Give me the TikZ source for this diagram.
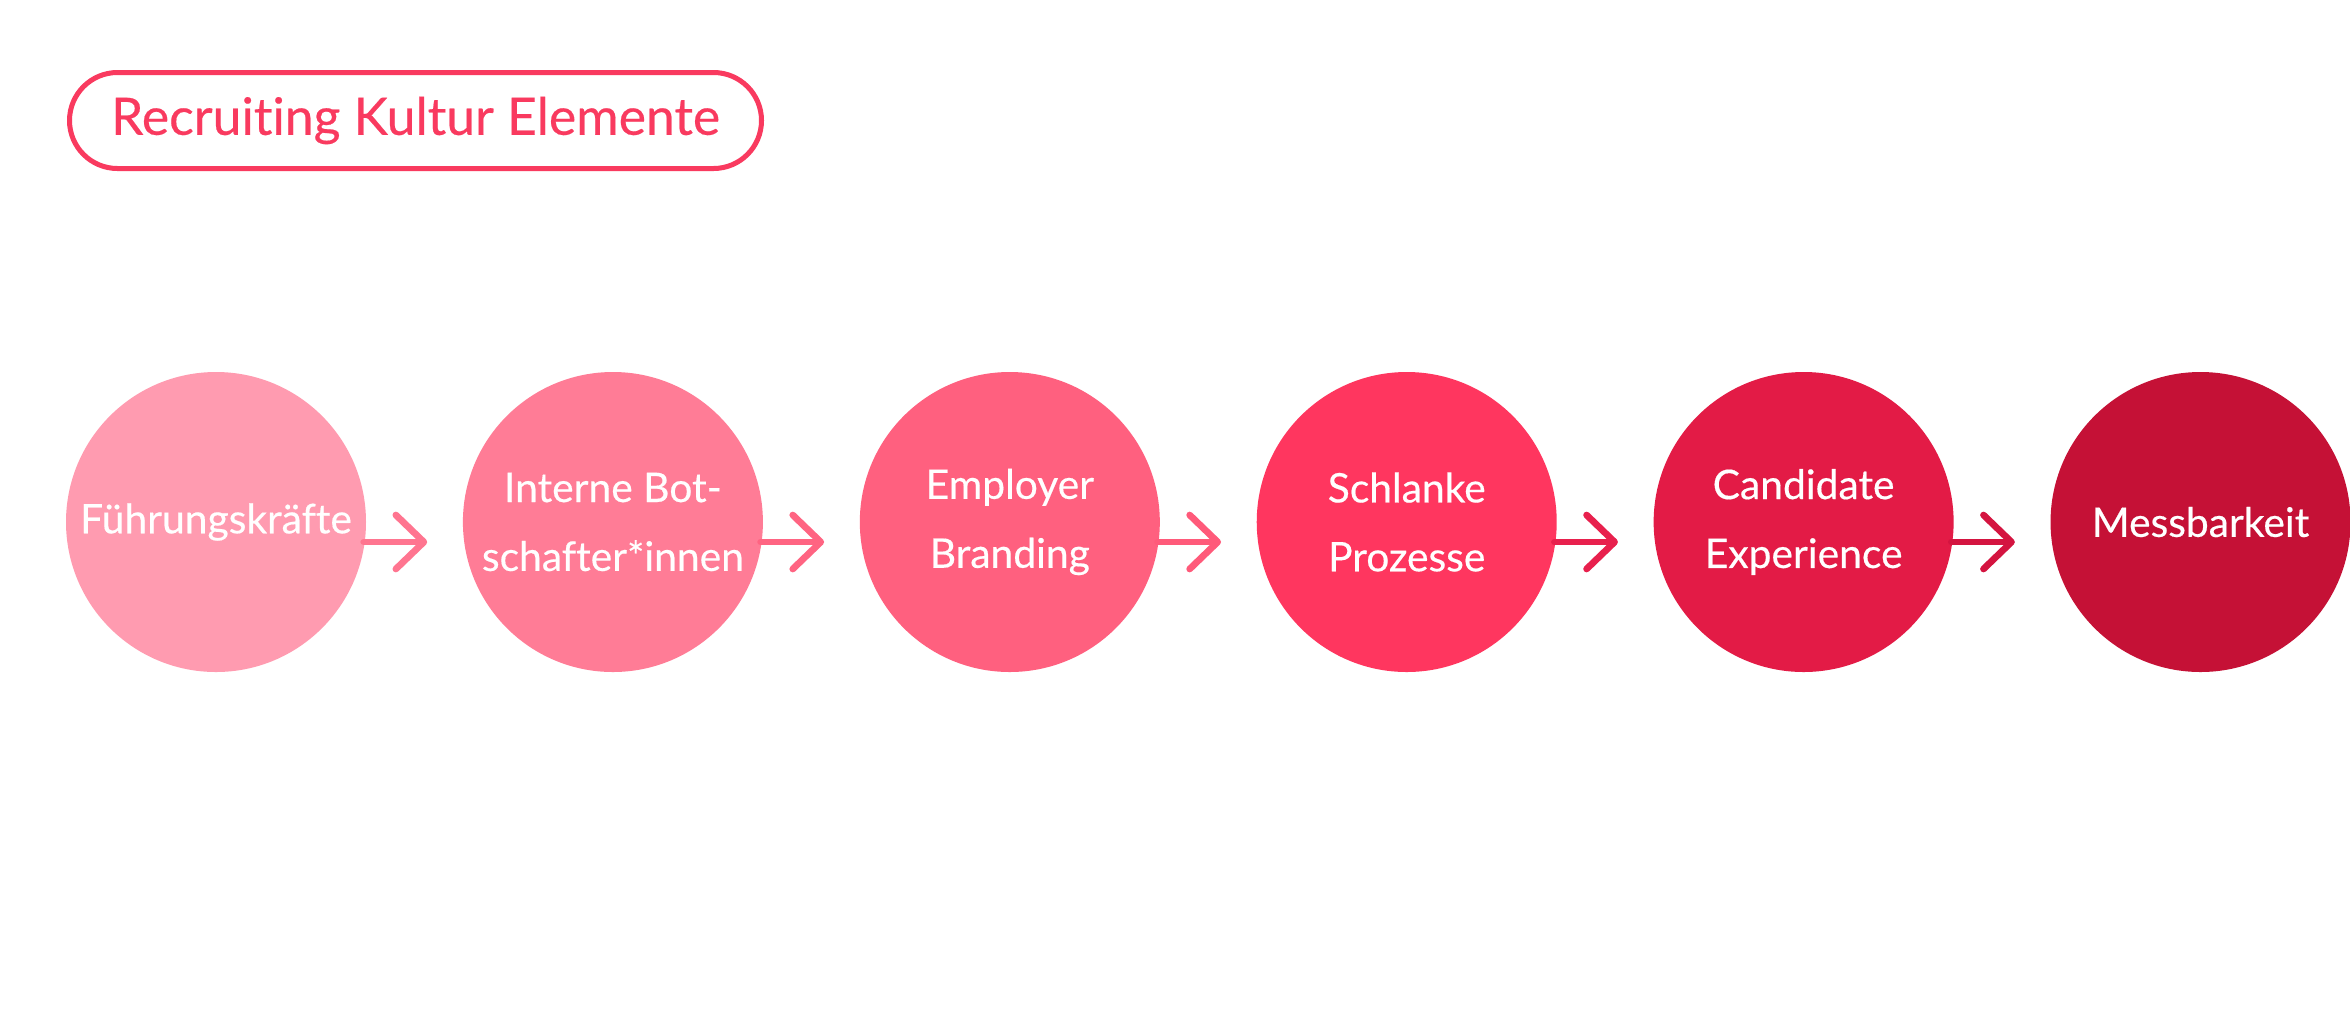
\documentclass[tikz,border=0pt]{standalone}
\usepackage{fontspec}
\setmainfont{Lato}
\newfontfamily\rkfont[FakeBold=0.4,Ligatures={NoCommon}]{Lato}
\usetikzlibrary{arrows.meta,positioning}
\definecolor{rkline}{HTML}{F93A5F}
\definecolor{rkone}{HTML}{FF9BB0}
\definecolor{rktwo}{HTML}{FF7C96}
\definecolor{rkthree}{HTML}{FF607F}
\definecolor{rkfour}{HTML}{FF365F}
\definecolor{rkfive}{HTML}{E31B46}
\definecolor{rksix}{HTML}{C51136}
\definecolor{rkarrowa}{HTML}{FF7590}
\definecolor{rkarrowb}{HTML}{FF6482}
\definecolor{rkarrowc}{HTML}{FF5A7A}
\definecolor{rkarrowd}{HTML}{E8204D}
\definecolor{rkarrowe}{HTML}{D41440}
\tikzset{
  titlepill/.style={
    draw=rkline,
    line width=0.05cm,
    text=rkline,
    rounded corners=0.48cm,
    minimum width=6.92cm,
    minimum height=0.96cm,
    inner sep=0pt,
    font=\rkfont\fontsize{14.7}{17}\selectfont
  },
  stepcircle/.style={
    circle,
    minimum size=3cm,
    inner sep=0pt,
    text=white,
    align=center,
    font=\rkfont\fontsize{11.6}{19.6}\selectfont
  },
  flowarrow/.style={-{Straight Barb[length=0.28cm, width=0.54cm, round]}, line width=0.067cm, line cap=round}
}

\begin{document}
\begin{tikzpicture}[node distance=0.955cm]
  \fill[white] (0,0) rectangle (23.5,-10.24);
  \useasboundingbox (0,0) rectangle (23.5,-10.24);
  \node[titlepill] (title) at (4.155,-1.205) {Recruiting Kultur Elemente};
  \node[stepcircle, fill=rkone] (fuehrung) at (2.16,-5.22) {Führungskräfte};
  \node[stepcircle, fill=rktwo, right=of fuehrung] (botschaft) {Interne Bot-\\schafter*innen};
  \node[stepcircle, fill=rkthree, right=of botschaft] (branding) {Employer\\Branding};
  \node[stepcircle, fill=rkfour, right=of branding] (prozesse) {Schlanke\\Prozesse};
  \node[stepcircle, fill=rkfive, right=of prozesse] (candidate) {Candidate\\Experience};
  \node[stepcircle, fill=rksix, right=of candidate] (mess) {Messbarkeit};
  \draw[flowarrow, draw=rkarrowa] ([xshift=-0.03cm,yshift=-0.2cm]fuehrung.east) -- ([xshift=-0.35cm,yshift=-0.2cm]botschaft.west);
  \draw[flowarrow, draw=rkarrowb] ([xshift=-0.03cm,yshift=-0.2cm]botschaft.east) -- ([xshift=-0.35cm,yshift=-0.2cm]branding.west);
  \draw[flowarrow, draw=rkarrowc] ([xshift=-0.03cm,yshift=-0.2cm]branding.east) -- ([xshift=-0.35cm,yshift=-0.2cm]prozesse.west);
  \draw[flowarrow, draw=rkarrowd] ([xshift=-0.03cm,yshift=-0.2cm]prozesse.east) -- ([xshift=-0.35cm,yshift=-0.2cm]candidate.west);
  \draw[flowarrow, draw=rkarrowe] ([xshift=-0.03cm,yshift=-0.2cm]candidate.east) -- ([xshift=-0.35cm,yshift=-0.2cm]mess.west);
\end{tikzpicture}
\end{document}
